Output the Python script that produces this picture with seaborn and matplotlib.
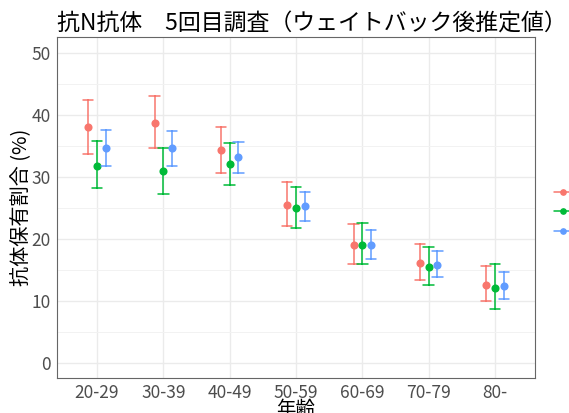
import matplotlib
matplotlib.use("Agg")
import matplotlib.pyplot as plt
from matplotlib.lines import Line2D
from matplotlib.ticker import MultipleLocator
import pandas as pd
import seaborn as sns

# Age groups and the three estimate series (point estimate with 95% interval, %)
age_groups = ["20-29", "30-39", "40-49", "50-59", "60-69", "70-79", "80-"]
series = ["A", "B", "C"]
colors = ["#F8766D", "#00BA38", "#619CFF"]

est_a = [38.0, 38.7, 34.3, 25.5, 19.0, 16.1, 12.5]
low_a = [33.7, 34.6, 30.6, 22.1, 15.9, 13.4, 10.0]
high_a = [42.4, 43.0, 38.0, 29.1, 22.4, 19.2, 15.6]

est_b = [31.8, 30.9, 32.0, 24.9, 19.0, 15.4, 12.0]
low_b = [28.1, 27.2, 28.7, 21.7, 15.9, 12.6, 8.7]
high_b = [35.8, 34.7, 35.5, 28.3, 22.6, 18.7, 16.0]

est_c = [34.6, 34.6, 33.1, 25.2, 19.0, 15.8, 12.3]
low_c = [31.8, 31.8, 30.6, 22.9, 16.8, 13.8, 10.3]
high_c = [37.5, 37.3, 35.6, 27.6, 21.4, 18.0, 14.6]

# Long table: each group holds lower / estimate / upper, so the median is the
# estimate and the 100% percentile interval spans the confidence interval.
rows = []
for name, est, low, high in zip(series,
                                [est_a, est_b, est_c],
                                [low_a, low_b, low_c],
                                [high_a, high_b, high_c]):
    for age, e, lo, hi in zip(age_groups, est, low, high):
        for v in (lo, e, hi):
            rows.append({"年齢": age, "系列": name, "値": v})
df = pd.DataFrame(rows)

sns.set_theme(style="whitegrid")
plt.rcParams["font.family"] = ["Noto Sans CJK JP", "DejaVu Sans"]

W, H = 569, 413
fig = plt.figure(figsize=(W / 100, H / 100), dpi=100)
left, right, top, bottom = 57.2, 534.8, 37.2, 378.2
ax = fig.add_axes([left / W, 1 - bottom / H, (right - left) / W, (bottom - top) / H])

sns.pointplot(
    data=df, x="年齢", y="値", hue="系列",
    order=age_groups, hue_order=series, palette=colors,
    estimator="median", errorbar=("pi", 100),
    dodge=0.266, capsize=0.16, linestyle="none",
    markers="o", markersize=3.8,
    err_kws={"linewidth": 1.1},
    legend=False, ax=ax,
)

# Panel styling
ax.set_facecolor("white")
ax.set_ylim(-2.5, 52.5)
ax.set_xlim(-0.6, len(age_groups) - 0.4)
ax.yaxis.set_major_locator(MultipleLocator(10))
ax.yaxis.set_minor_locator(MultipleLocator(5))
ax.grid(which="major", color="#EBEBEB", linewidth=1.0)
ax.grid(which="minor", axis="y", color="#F2F2F2", linewidth=0.7)
ax.set_axisbelow(True)
for sp in ax.spines.values():
    sp.set_color("#666666")
    sp.set_linewidth(0.8)
ax.tick_params(axis="both", which="major", length=3, width=0.8, color="#666666",
               labelsize=12.5, labelcolor="#4D4D4D", pad=1.5)
ax.tick_params(axis="both", which="minor", length=0)

ax.set_xlabel("年齢", fontsize=14, color="black", labelpad=-2.5)
ax.set_ylabel("抗体保有割合 (%)", fontsize=14.5, color="black", labelpad=0)
ax.set_title("抗N抗体　5回目調査（ウェイトバック後推定値）", fontsize=16.5,
             loc="left", pad=5, color="black")

# Legend keys at the right edge
handles = [Line2D([0], [0], color=c, marker="o", markersize=3.8, linewidth=1.1)
           for c in colors]
fig.legend(handles, ["", "", ""], loc="center left",
           bbox_to_anchor=(554 / W, 1 - 212.3 / H), frameon=False,
           prop={"size": 8}, handlelength=1.55, labelspacing=0.85,
           borderpad=0, borderaxespad=0, handletextpad=0.3)

fig.savefig("out.png", dpi=100)
